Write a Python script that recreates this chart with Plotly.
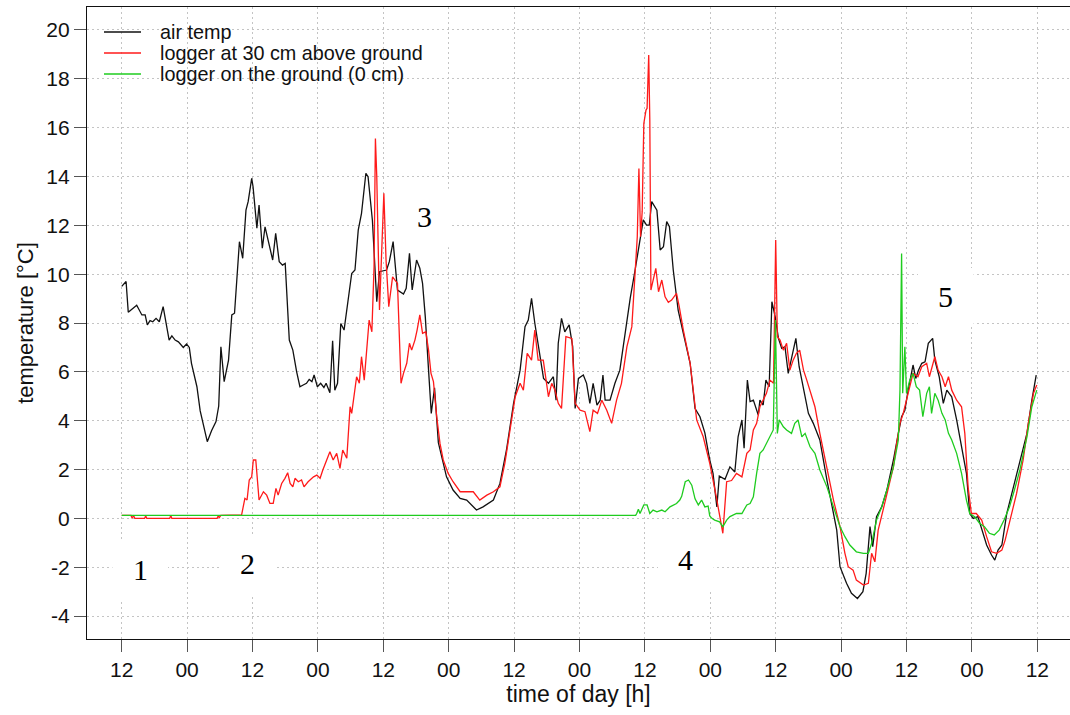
import plotly.graph_objects as go

# ---------------- data (hours since first noon, temperature in °C) ----------------
air_h = [0.0, 0.8, 1.2, 2.75, 3.7, 4.3, 4.7, 5.2, 5.7, 6.3, 6.9, 7.6, 8.7, 9.2, 9.8, 10.4, 11.3, 11.9,
         12.4, 12.8, 13.8, 14.4, 15.7, 16.5, 17.3, 17.8, 18.2, 18.8, 19.6, 20.2, 20.7, 21.6, 22.2, 22.8,
         23.2, 23.85, 24.1, 24.8, 25.2, 25.8, 26.3, 27.1, 27.7, 28.25, 28.9, 29.5, 30.0, 30.75, 31.4,
         32.1, 32.7, 33.3, 33.9, 34.4, 34.9, 35.3, 35.9, 36.5, 37.1, 37.5, 38.2, 38.7, 39.1, 39.6, 40.2,
         40.8, 41.6, 42.2, 42.8, 43.4, 44.0, 44.8, 45.2, 46.0, 46.8, 47.3, 48.6, 49.1, 49.8, 50.6, 51.7,
         52.2, 52.8, 53.3, 54.1, 54.7, 55.2, 55.7, 56.3, 56.8, 57.4, 58.1, 59.6, 60.8, 62.1, 63.3, 65.1,
         66.3, 68.2, 69.4, 70.6, 71.9, 73.1, 74.0, 74.6, 75.2, 75.8, 76.75, 77.4, 78.3, 79.2, 79.7, 80.1,
         80.7, 81.3, 82.1, 82.75, 83.2, 83.8, 84.7, 85.3, 85.9, 86.5, 87.2, 87.8, 88.3, 88.7, 89.6, 90.5,
         91.4, 92.3, 93.3, 94.2, 94.8, 95.7, 96.3, 96.8, 97.25, 98.2, 98.8, 99.4, 100.0, 100.5, 101.2,
         102.1, 103.05, 104.3, 105.2, 106.1, 107.0, 107.9, 108.5, 109.2, 109.65, 110.7, 111.6, 112.5,
         113.1, 113.8, 114.2, 114.8, 115.3, 115.9, 116.8, 117.1, 117.7, 118.2, 118.8, 119.3, 119.9,
         120.5, 121.1, 121.7, 122.3, 122.9, 123.7, 124.3, 125.1, 126.0, 126.9, 128.1, 129.4, 130.6,
         131.2, 131.8, 133.0, 133.9, 135.0, 136.0, 136.6, 137.3, 137.8, 138.5, 139.45, 140.4, 141.6,
         142.5, 143.1, 143.7, 144.3, 145.2, 145.7, 146.2, 146.8, 147.4, 148.0, 148.8, 149.2, 150.0,
         150.75, 151.4, 152.3, 153.2, 154.1, 155.0, 155.6, 156.25, 157.1, 157.8, 158.7, 159.6, 160.2,
         160.8, 161.5, 162.4, 163.6, 164.8, 166.1, 167.0, 167.8]
air_t = [9.5, 9.7, 8.44, 8.73, 8.33, 8.33, 7.92, 8.1, 8.05, 8.19, 8.05, 8.67, 7.3, 7.47, 7.3, 7.23, 7.0, 7.14,
         7.0, 6.35, 5.39, 4.4, 3.14, 3.6, 3.96, 4.6, 7.03, 5.6, 6.48, 8.33, 8.4, 11.33, 10.65, 12.62,
         12.97, 13.92, 13.58, 11.88, 12.83, 11.06, 11.94, 11.12, 10.58, 11.67, 10.51, 10.37, 10.44, 7.3, 6.89,
         6.0, 5.39, 5.46, 5.53, 5.69, 5.6, 5.87, 5.39, 5.53, 5.36, 5.53, 5.14, 7.27, 5.25, 5.53, 7.98,
         7.71, 8.94, 10.03, 10.17, 11.8, 12.49, 14.13, 13.99, 12.2, 8.87, 10.1, 10.17, 10.51, 11.33, 9.35, 9.19,
         9.42, 10.85, 9.35, 10.58, 10.24, 9.62, 8.26, 6.07, 4.3, 5.35, 3.1, 1.70, 1.16, 0.82, 0.75, 0.34,
         0.47, 0.75, 1.43, 2.80, 4.71, 6.07, 7.85, 8.12, 9.01, 7.99, 6.62, 5.73, 5.53, 5.80, 4.84, 7.17,
         8.19, 7.64, 7.92, 7.03, 4.5, 5.73, 5.87, 5.53, 4.71, 5.53, 4.64, 4.84, 5.87, 4.84, 4.84, 5.53,
         6.07, 7.44, 9.01, 10.17, 10.99, 12.22, 12.01, 12.01, 12.97, 12.62, 10.99, 11.12, 12.15, 11.94, 10.17,
         8.53, 7.58, 6.35, 4.5, 4.16, 3.5, 2.39, 1.84, 0.47, 1.73, 1.6, 2.11, 1.9,
         3.34, 4.03, 2.87, 5.66, 4.78, 4.84, 4.23, 4.84, 4.64, 5.66, 5.39, 8.87, 8.26,
         7.37, 6.96, 7.03, 5.94, 6.62, 7.37, 6.21, 5.25, 4.3, 3.89, 3.21, 1.57, 0.2,
         -0.48, -1.98, -2.66, -3.07, -3.28, -3.0, -2.25, -0.34, -1.16, 0.07, 0.47, 1.16, 2.39,
         3.48, 4.16, 4.43, 5.25, 6.28, 5.73, 6.07, 6.35, 6.41, 7.17, 7.37, 6.48, 5.8,
         4.71, 5.25, 4.98, 4.03, 2.93, 1.84, 0.2, 0.0, 0.07, -0.48, -1.09, -1.5, -1.71,
         -1.3, -1.09, 0.2, 1.29, 2.39, 3.48, 4.84, 5.87]

logger30_h = [0.0, 1.7, 1.9, 2.2, 2.4, 4.2, 4.4, 4.6, 8.8, 9.0, 9.2, 17.5, 17.7, 17.9, 18.2, 22.0,
              22.6, 23.0, 23.4, 23.85, 24.15, 24.6, 25.2, 26.0, 26.6, 27.2, 27.8, 28.3, 28.7, 29.35, 29.95,
              30.45, 30.9, 31.4, 31.8, 32.4, 33.0, 33.45, 34.2, 35.2, 35.8, 36.4, 36.9, 37.6, 38.2, 38.8,
              39.45, 40.05, 40.55, 41.3, 41.9, 42.2, 42.6, 43.1, 43.6, 44.0, 44.5, 44.95, 45.4, 45.9, 46.3,
              46.55, 46.8, 47.3, 47.7, 48.1, 48.5, 49.0, 49.7, 50.15, 50.6, 51.25, 51.7, 52.3, 52.8, 53.2,
              53.8, 54.2, 54.7, 55.2, 55.8, 56.3, 56.75, 57.2, 57.8, 58.4, 59.0, 59.9, 60.8, 62.1, 63.3,
              64.5, 65.7, 67.0, 68.2, 69.4, 70.3, 71.2, 72.2, 73.1, 73.7, 74.4, 75.2, 75.8, 76.4, 77.35,
              78.3, 78.9, 79.5, 80.1, 80.7, 81.5, 82.6, 83.2, 84.1, 85.0, 85.9, 86.5, 87.3, 88.1, 89.0,
              89.9, 90.8, 91.7, 92.7, 93.6, 94.2, 94.6, 94.9, 95.2, 95.5, 95.8, 96.2, 96.4, 96.7, 96.9,
              97.1, 97.5, 98.0, 98.5, 99.1, 99.7, 100.3, 100.9, 101.8, 102.3, 103.05, 104.3, 105.5, 106.7,
              107.9, 109.1, 110.3, 111.0, 111.9, 112.8, 113.8, 114.7, 115.3, 115.9, 116.5, 117.1, 117.7,
              118.3, 118.95, 119.6, 120.0, 120.3, 120.8, 121.4, 122.0, 122.6, 123.2, 123.8, 124.4, 125.1,
              125.7, 126.3, 127.2, 128.1, 129.4, 130.6, 131.8, 132.7, 133.3, 134.2, 134.8, 136.1, 137.0,
              137.6, 138.2, 138.8, 139.7, 140.7, 141.6, 142.2, 142.8, 143.4, 144.0, 144.6, 145.2, 146.1,
              146.8, 147.7, 148.2, 148.7, 149.2, 149.8, 150.5, 151.1, 151.7, 152.3, 153.2, 154.1, 154.7,
              155.3, 155.9, 156.8, 157.8, 158.7, 159.6, 160.55, 161.5, 162.1, 163.0, 164.2, 165.4, 166.35,
              167.3, 167.9]
logger30_t = [0.12, 0.12, 0.02, 0.1, 0.0, 0.0, 0.1, 0.0, 0.0, 0.12, 0.0, 0.0, 0.1, 0.03, 0.12, 0.14,
              0.82, 0.75, 1.57, 1.70, 2.39, 2.39, 0.75, 1.09, 0.95, 0.61, 0.61, 1.23, 0.95, 1.43, 1.64,
              1.87, 1.43, 1.29, 1.64, 1.50, 1.57, 1.29, 1.50, 1.70, 1.77, 1.64, 1.98, 2.39, 2.73, 2.39,
              2.66, 2.05, 2.80, 2.46, 4.57, 4.30, 4.98, 5.80, 5.53, 6.62, 5.66, 7.03, 8.12, 7.64, 10.3,
              15.55, 14.0, 8.53, 10.99, 13.31, 10.58, 8.67, 9.89, 9.76, 9.62, 5.53, 5.94, 6.35, 7.17, 6.89,
              7.30, 7.71, 8.33, 7.58, 7.64, 6.89, 5.94, 5.6, 4.16, 3.07, 2.39, 1.84, 1.5, 1.09, 1.09,
              1.09, 0.75, 0.95, 1.09, 1.29, 2.25, 3.62, 4.98, 5.53, 5.25, 6.76, 6.48, 7.71, 6.48, 6.48,
              4.98, 5.53, 5.25, 4.71, 4.50, 7.44, 7.37, 4.71, 4.43, 4.37, 3.55, 4.43, 4.30, 4.84, 4.43,
              3.89, 4.84, 5.53, 7.03, 7.85, 10.17, 11.53, 14.33, 11.53, 12.56, 16.17, 16.72, 16.79, 18.97, 16.31,
              9.35, 9.8, 10.24, 9.28, 9.76, 9.07, 8.85, 8.94, 9.21, 8.67, 7.71, 6.35, 4.03, 3.34,
              2.25, 0.88, -0.61, 1.5, 1.55, 1.84, 1.70, 2.66, 2.80, 3.62, 3.89, 4.57, 4.84,
              5.12, 5.66, 5.53, 11.4, 7.44, 7.30, 6.89, 7.17, 6.07, 6.48, 6.76, 6.89, 6.07,
              5.66, 5.25, 4.57, 3.48, 2.11, 0.75, -0.34, -1.43, -1.98, -2.12, -2.53, -2.73, -2.66,
              -1.43, -1.78, -0.48, 0.34, 1.29, 2.11, 3.07, 3.89, 4.30, 4.84, 5.39, 5.94, 5.80,
              6.21, 6.35, 5.80, 6.21, 6.62, 6.07, 5.80, 5.39, 5.80, 5.25, 4.84, 4.57, 3.48,
              1.29, 0.2, 0.2, -0.07, -0.75, -1.37, -1.43, -1.30, -0.89, -0.07, 1.02, 2.39, 3.89,
              5.12, 5.46]

ground_h = [0.0, 94.3, 94.5, 94.8, 95.1, 95.8, 96.4, 96.9, 97.5, 98.2, 99.1, 99.7, 100.6, 101.8, 102.4,
            102.75, 103.4, 104.0, 104.6, 105.2, 105.8, 106.4, 107.0, 107.6, 107.9, 108.3, 108.8, 109.7,
            110.3, 111.0, 111.6, 112.2, 112.8, 113.8, 114.7, 115.3, 115.9, 116.5, 117.1, 117.7, 118.3,
            118.95, 119.55, 119.95, 120.3, 120.65, 121.4, 122.0, 122.9, 123.5, 124.1, 124.8, 125.4, 126.3,
            127.2, 128.1, 129.4, 130.6, 131.8, 132.7, 133.6, 134.8, 136.1, 137.0, 137.6, 138.5, 139.45,
            140.4, 141.6, 142.5, 142.8, 143.1, 143.3, 143.7, 144.0, 144.6, 145.2, 145.8, 146.4, 147.0,
            147.7, 148.2, 148.6, 149.2, 149.8, 150.5, 151.1, 151.7, 152.3, 153.2, 154.1, 155.0, 155.6,
            156.5, 157.4, 158.3, 159.2, 160.1, 161.0, 161.9, 162.9, 163.8, 164.8, 166.1, 167.0, 167.9]
ground_t = [0.12, 0.12, 0.2, 0.37, 0.2, 0.55, 0.55, 0.2, 0.34, 0.27, 0.34, 0.27, 0.47, 0.61, 0.75,
            0.9, 1.5, 1.57, 1.36, 0.8, 0.55, 0.75, 0.47, 0.5, 0.1, 0.0, -0.07, -0.14,
            -0.34, -0.07, 0.07, 0.14, 0.2, 0.2, 0.55, 0.61, 0.88, 1.84, 2.66, 2.80, 3.07,
            3.34, 3.62, 8.12, 3.48, 4.03, 3.75, 3.62, 3.48, 3.89, 4.03, 3.34, 3.48, 2.93,
            2.66, 1.98, 1.29, 0.47, -0.34, -0.75, -1.09, -1.37, -1.43, -1.43, -1.02, -0.07, 0.47,
            1.16, 2.11, 3.21, 5.25, 10.85, 5.12, 7.03, 5.12, 5.66, 5.94, 5.39, 5.25, 4.16,
            5.12, 5.39, 4.30, 5.12, 4.84, 4.30, 4.03, 3.48, 3.21, 2.66, 1.84, 0.75, 0.2,
            0.07, -0.2, -0.34, -0.61, -0.68, -0.48, -0.07, 0.47, 1.16, 1.98, 3.34, 4.57, 5.25]

x_tick_vals = [0, 12, 24, 36, 48, 60, 72, 84, 96, 108, 120, 132, 144, 156, 168]
x_tick_text = ["12", "00", "12", "00", "12", "00", "12", "00", "12", "00", "12", "00", "12", "00", "12"]
y_tick_vals = [-4, -2, 0, 2, 4, 6, 8, 10, 12, 14, 16, 18, 20]
y_tick_text = ["-4", "-2", "0", "2", "4", "6", "8", "10", "12", "14", "16", "18", "20"]

series_names = ["air temp", "logger at 30 cm above ground", "logger on the ground (0 cm)"]
series_colors = ["#111111", "#ff1a1a", "#1fcc1f"]

# event labels: text, x (h), y (°C)
label_text = ["1", "2", "3", "4", "5"]
label_x = [3.4, 23.0, 55.5, 103.5, 151.2]
label_y = [-2.1, -1.85, 12.35, -1.7, 9.1]

# ---------------- figure ----------------
fig = go.Figure()
for xs, ys, name, col in [(air_h, air_t, series_names[0], series_colors[0]),
                          (logger30_h, logger30_t, series_names[1], series_colors[1]),
                          (ground_h, ground_t, series_names[2], series_colors[2])]:
    fig.add_trace(go.Scatter(x=xs, y=ys, mode="lines", name=name,
                             line=dict(color=col, width=1.3), showlegend=False))

# white boxes behind the event labels (hide grid lines)
for lx, ly in zip(label_x, label_y):
    fig.add_shape(type="rect", xref="x", yref="y", x0=lx - 5.1, x1=lx + 5.1,
                  y0=ly - 1.25, y1=ly + 1.15, fillcolor="white", line=dict(width=0),
                  layer="between")
for t, lx, ly in zip(label_text, label_x, label_y):
    fig.add_annotation(x=lx, y=ly, xref="x", yref="y", text=t, showarrow=False,
                       font=dict(family="Liberation Serif", size=30, color="black"))

# manual legend (R style)
L, PW, T, PH = 87, 983, 7, 632
def px_x(p):
    return (p - L) / PW
def px_y(p):
    return (T + PH - p) / PH
for i, (name, col) in enumerate(zip(series_names, series_colors)):
    yy = 32 + 21 * i
    fig.add_shape(type="line", xref="paper", yref="paper", x0=px_x(104), x1=px_x(141),
                  y0=px_y(yy), y1=px_y(yy), line=dict(color=col, width=1.3))
    fig.add_annotation(x=px_x(158), y=px_y(yy), xref="paper", yref="paper", text=name,
                       showarrow=False, xanchor="left", yanchor="middle",
                       font=dict(family="Liberation Sans", size=19.8, color="#111111"))

axis_common = dict(showgrid=True, gridcolor="#c4c4c4", griddash="2px,3px", gridwidth=1,
                   zeroline=False, showline=True, linecolor="#111111", linewidth=1.3,
                   ticks="outside", ticklen=12, tickcolor="#555555", tickwidth=1.3,
                   automargin=False,
                   tickfont=dict(family="Liberation Sans", size=21, color="#111111"))

fig.update_xaxes(range=[-6.37, 174.0], tickmode="array", tickvals=x_tick_vals,
                 ticktext=x_tick_text, mirror=True,
                 title=dict(text="time of day [h]", standoff=4,
                            font=dict(family="Liberation Sans", size=23, color="#111111")),
                 **axis_common)
fig.update_yaxes(range=[-4.94, 20.94], tickmode="array", tickvals=y_tick_vals,
                 ticktext=y_tick_text, mirror=False,
                 title=dict(text="temperature [°C]", standoff=6,
                            font=dict(family="Liberation Sans", size=22, color="#111111")),
                 **axis_common)

fig.update_layout(width=1070, height=715, plot_bgcolor="white", paper_bgcolor="white",
                  margin=dict(l=87, r=0, t=7, b=76), showlegend=False)

fig.write_html("out.html", post_script="document.body.style.margin='0';",
               config={"displayModeBar": False})
